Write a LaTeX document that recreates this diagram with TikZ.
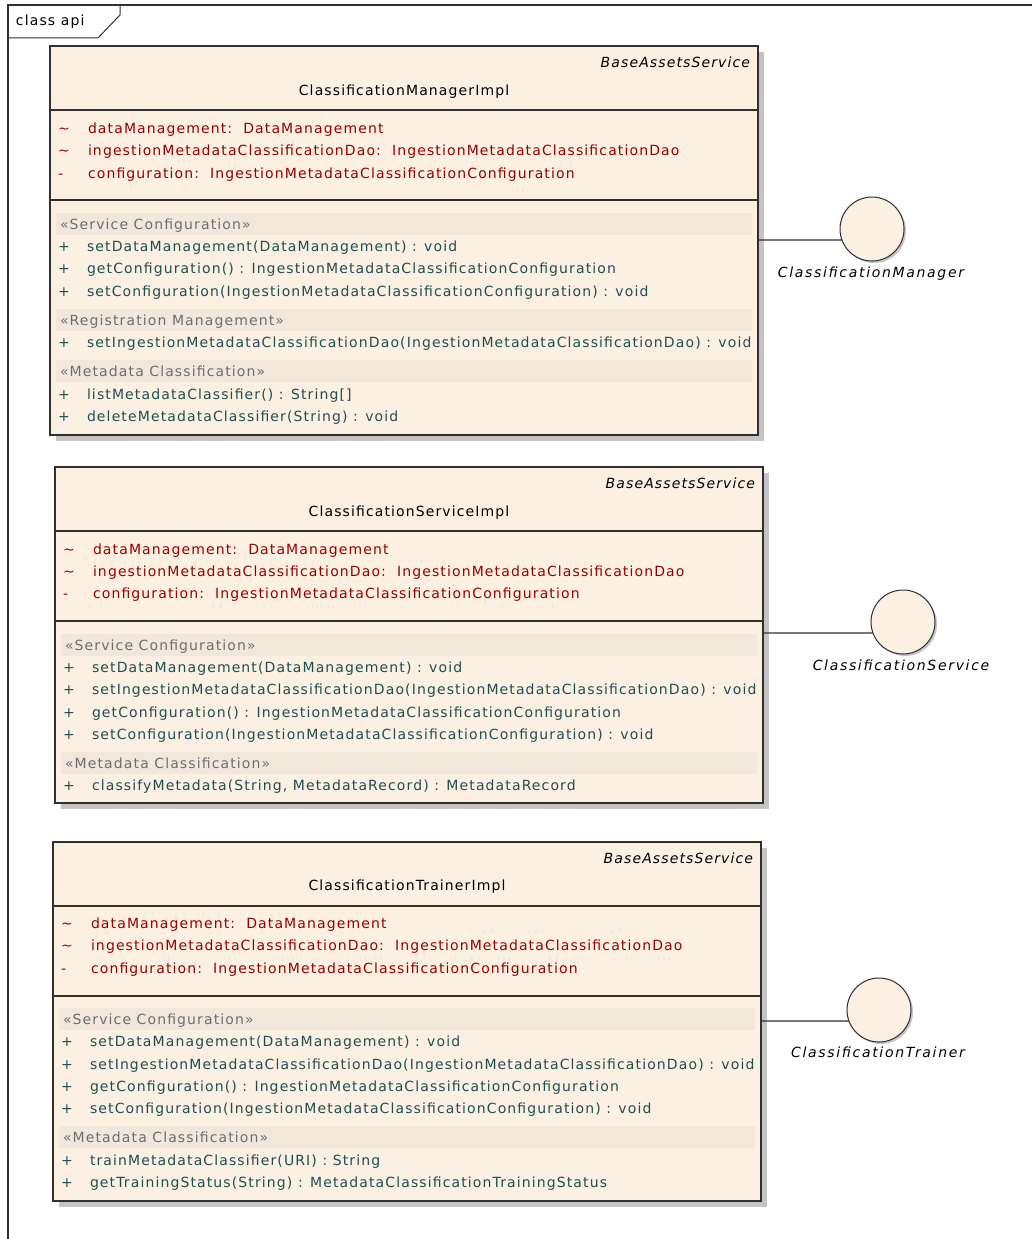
\documentclass[tikz,border=0pt]{standalone}
\usepackage{fontspec}
\newfontfamily\umlfam{DejaVu Sans}[LetterSpace=8]
\newfontfamily\ifcfam{DejaVu Sans}[LetterSpace=12]
\newcommand\umlf{\umlfam\fontsize{14}{16}\selectfont}
\newcommand\ifcf{\ifcfam\fontsize{14}{16}\selectfont\itshape}
\definecolor{fillc}{HTML}{FBF0E2}
\definecolor{bandc}{HTML}{F1E8DB}
\definecolor{attrc}{HTML}{9A0000}
\definecolor{opc}{HTML}{1E5050}
\definecolor{stc}{HTML}{6E6E6E}
\definecolor{shc}{HTML}{C4C4C4}
\definecolor{linec}{HTML}{303030}
\tikzset{
 every node/.style={inner sep=0pt, outer sep=0pt},
 txt/.style={font=\umlf, anchor=base west},
 attr/.style={txt, text=attrc},
 oper/.style={txt, text=opc},
 stereo/.style={txt, text=stc},
 hdr/.style={font=\umlf, text=black},
 ifclabel/.style={font=\ifcf, text=black, anchor=base},
 classbox/.style={draw=linec, line width=1.3pt, fill=fillc, anchor=north west, rectangle},
 lolly/.style={circle, draw=linec, line width=1pt, fill=fillc, minimum size=64pt},
 shad/.style={fill=shc},
 conn/.style={draw=linec, line width=1.2pt},
 sep/.style={draw=linec, line width=1.3pt},
}
\begin{document}
\begin{tikzpicture}[x=1pt,y=-1pt]
\useasboundingbox (0,0) rectangle (1032,1239);
\clip (0,0) rectangle (1032,1239);
\fill[white] (0,0) rectangle (1032,1239);
% frame
\draw[linec, line width=1.3pt] (8,1260) -- (8,5) -- (1050,5);
\draw[linec, line width=1pt] (8,38) -- (98,38) -- (120,15) -- (120,5);
\node[txt, text=black] (frame) at (16,26) {class api};

% ================= Class A =================
\fill[shad] (56,52) rectangle (764,441);
\node[classbox, minimum width=708pt, minimum height=389pt] (cA) at (50,46) {};
\draw[sep] (cA.west |- 0,110) -- (cA.east |- 0,110);
\draw[sep] (cA.west |- 0,200) -- (cA.east |- 0,200);
\node[hdr, anchor=base east] (cAs) at (750,67) {\itshape BaseAssetsService};
\node[hdr, anchor=base] (cAn) at (404,95) {ClassificationManagerImpl};
\foreach \yy/\ss/\tx [count=\i] in {
 133/\textasciitilde/{dataManagement:\ \ DataManagement},
 155/\textasciitilde/{ingestionMetadataClassificationDao:\ \ IngestionMetadataClassificationDao},
 178/-/{configuration:\ \ IngestionMetadataClassificationConfiguration}}{
 \node[attr] (cAv\i) at (58,\yy) {\ss};
 \node[attr] (cAa\i) at (88,\yy) {\tx};
}
\fill[bandc] (56,213) rectangle (752,235);
\fill[bandc] (56,309) rectangle (752,331);
\fill[bandc] (56,360) rectangle (752,382);
\node[stereo] (cAb1) at (60,229) {«Service Configuration»};
\node[stereo] (cAb2) at (60,325) {«Registration Management»};
\node[stereo] (cAb3) at (60,376) {«Metadata Classification»};
\foreach \yy/\tx [count=\i] in {
 251/{setDataManagement(DataManagement) : void},
 273/{getConfiguration() : IngestionMetadataClassificationConfiguration},
 296/{setConfiguration(IngestionMetadataClassificationConfiguration) : void},
 347/{setIngestionMetadataClassificationDao(IngestionMetadataClassificationDao) : void},
 399/{listMetadataClassifier() : String[]},
 421/{deleteMetadataClassifier(String) : void}}{
 \node[oper] (cAp\i) at (58,\yy) {+};
 \node[oper] (cAo\i) at (87,\yy) {\tx};
}

% ================= Class B =================
\fill[shad] (61,473) rectangle (769,809);
\node[classbox, minimum width=708pt, minimum height=336pt] (cB) at (55,467) {};
\draw[sep] (cB.west |- 0,531) -- (cB.east |- 0,531);
\draw[sep] (cB.west |- 0,621) -- (cB.east |- 0,621);
\node[hdr, anchor=base east] (cBs) at (755,488) {\itshape BaseAssetsService};
\node[hdr, anchor=base] (cBn) at (409,516) {ClassificationServiceImpl};
\foreach \yy/\ss/\tx [count=\i] in {
 554/\textasciitilde/{dataManagement:\ \ DataManagement},
 576/\textasciitilde/{ingestionMetadataClassificationDao:\ \ IngestionMetadataClassificationDao},
 598/-/{configuration:\ \ IngestionMetadataClassificationConfiguration}}{
 \node[attr] (cBv\i) at (63,\yy) {\ss};
 \node[attr] (cBa\i) at (93,\yy) {\tx};
}
\fill[bandc] (61,634) rectangle (757,656);
\fill[bandc] (61,752) rectangle (757,774);
\node[stereo] (cBb1) at (65,650) {«Service Configuration»};
\node[stereo] (cBb2) at (65,768) {«Metadata Classification»};
\foreach \yy/\tx [count=\i] in {
 672/{setDataManagement(DataManagement) : void},
 694/{setIngestionMetadataClassificationDao(IngestionMetadataClassificationDao) : void},
 717/{getConfiguration() : IngestionMetadataClassificationConfiguration},
 739/{setConfiguration(IngestionMetadataClassificationConfiguration) : void},
 790/{classifyMetadata(String, MetadataRecord) : MetadataRecord}}{
 \node[oper] (cBp\i) at (63,\yy) {+};
 \node[oper] (cBo\i) at (92,\yy) {\tx};
}

% ================= Class C =================
\fill[shad] (59,848) rectangle (767,1207);
\node[classbox, minimum width=708pt, minimum height=359pt] (cC) at (53,842) {};
\draw[sep] (cC.west |- 0,906) -- (cC.east |- 0,906);
\draw[sep] (cC.west |- 0,996) -- (cC.east |- 0,996);
\node[hdr, anchor=base east] (cCs) at (753,863) {\itshape BaseAssetsService};
\node[hdr, anchor=base] (cCn) at (407,890) {ClassificationTrainerImpl};
\foreach \yy/\ss/\tx [count=\i] in {
 928/\textasciitilde/{dataManagement:\ \ DataManagement},
 950/\textasciitilde/{ingestionMetadataClassificationDao:\ \ IngestionMetadataClassificationDao},
 973/-/{configuration:\ \ IngestionMetadataClassificationConfiguration}}{
 \node[attr] (cCv\i) at (61,\yy) {\ss};
 \node[attr] (cCa\i) at (91,\yy) {\tx};
}
\fill[bandc] (59,1008) rectangle (755,1030);
\fill[bandc] (59,1126) rectangle (755,1148);
\node[stereo] (cCb1) at (63,1024) {«Service Configuration»};
\node[stereo] (cCb2) at (63,1142) {«Metadata Classification»};
\foreach \yy/\tx [count=\i] in {
 1046/{setDataManagement(DataManagement) : void},
 1069/{setIngestionMetadataClassificationDao(IngestionMetadataClassificationDao) : void},
 1091/{getConfiguration() : IngestionMetadataClassificationConfiguration},
 1113/{setConfiguration(IngestionMetadataClassificationConfiguration) : void},
 1165/{trainMetadataClassifier(URI) : String},
 1187/{getTrainingStatus(String) : MetadataClassificationTrainingStatus}}{
 \node[oper] (cCp\i) at (61,\yy) {+};
 \node[oper] (cCo\i) at (90,\yy) {\tx};
}

% ================= Interfaces =================
\fill[shc] (874,231) circle (32);
\fill[shc] (905,624) circle (32);
\fill[shc] (881,1012) circle (32);
\node[lolly] (iA) at (872,229) {};
\node[lolly] (iB) at (903,622) {};
\node[lolly] (iC) at (879,1010) {};
\coordinate (pA) at (cA.east |- 0,240);
\coordinate (pB) at (cB.east |- 0,633);
\coordinate (pC) at (cC.east |- 0,1021);
\draw[conn] (pA) -- (iA.200);
\draw[conn] (pB) -- (iB.200);
\draw[conn] (pC) -- (iC.200);
\node[ifclabel] (lA) at (871,277) {ClassificationManager};
\node[ifclabel] (lB) at (901,670) {ClassificationService};
\node[ifclabel] (lC) at (878,1057) {ClassificationTrainer};
\end{tikzpicture}
\end{document}
